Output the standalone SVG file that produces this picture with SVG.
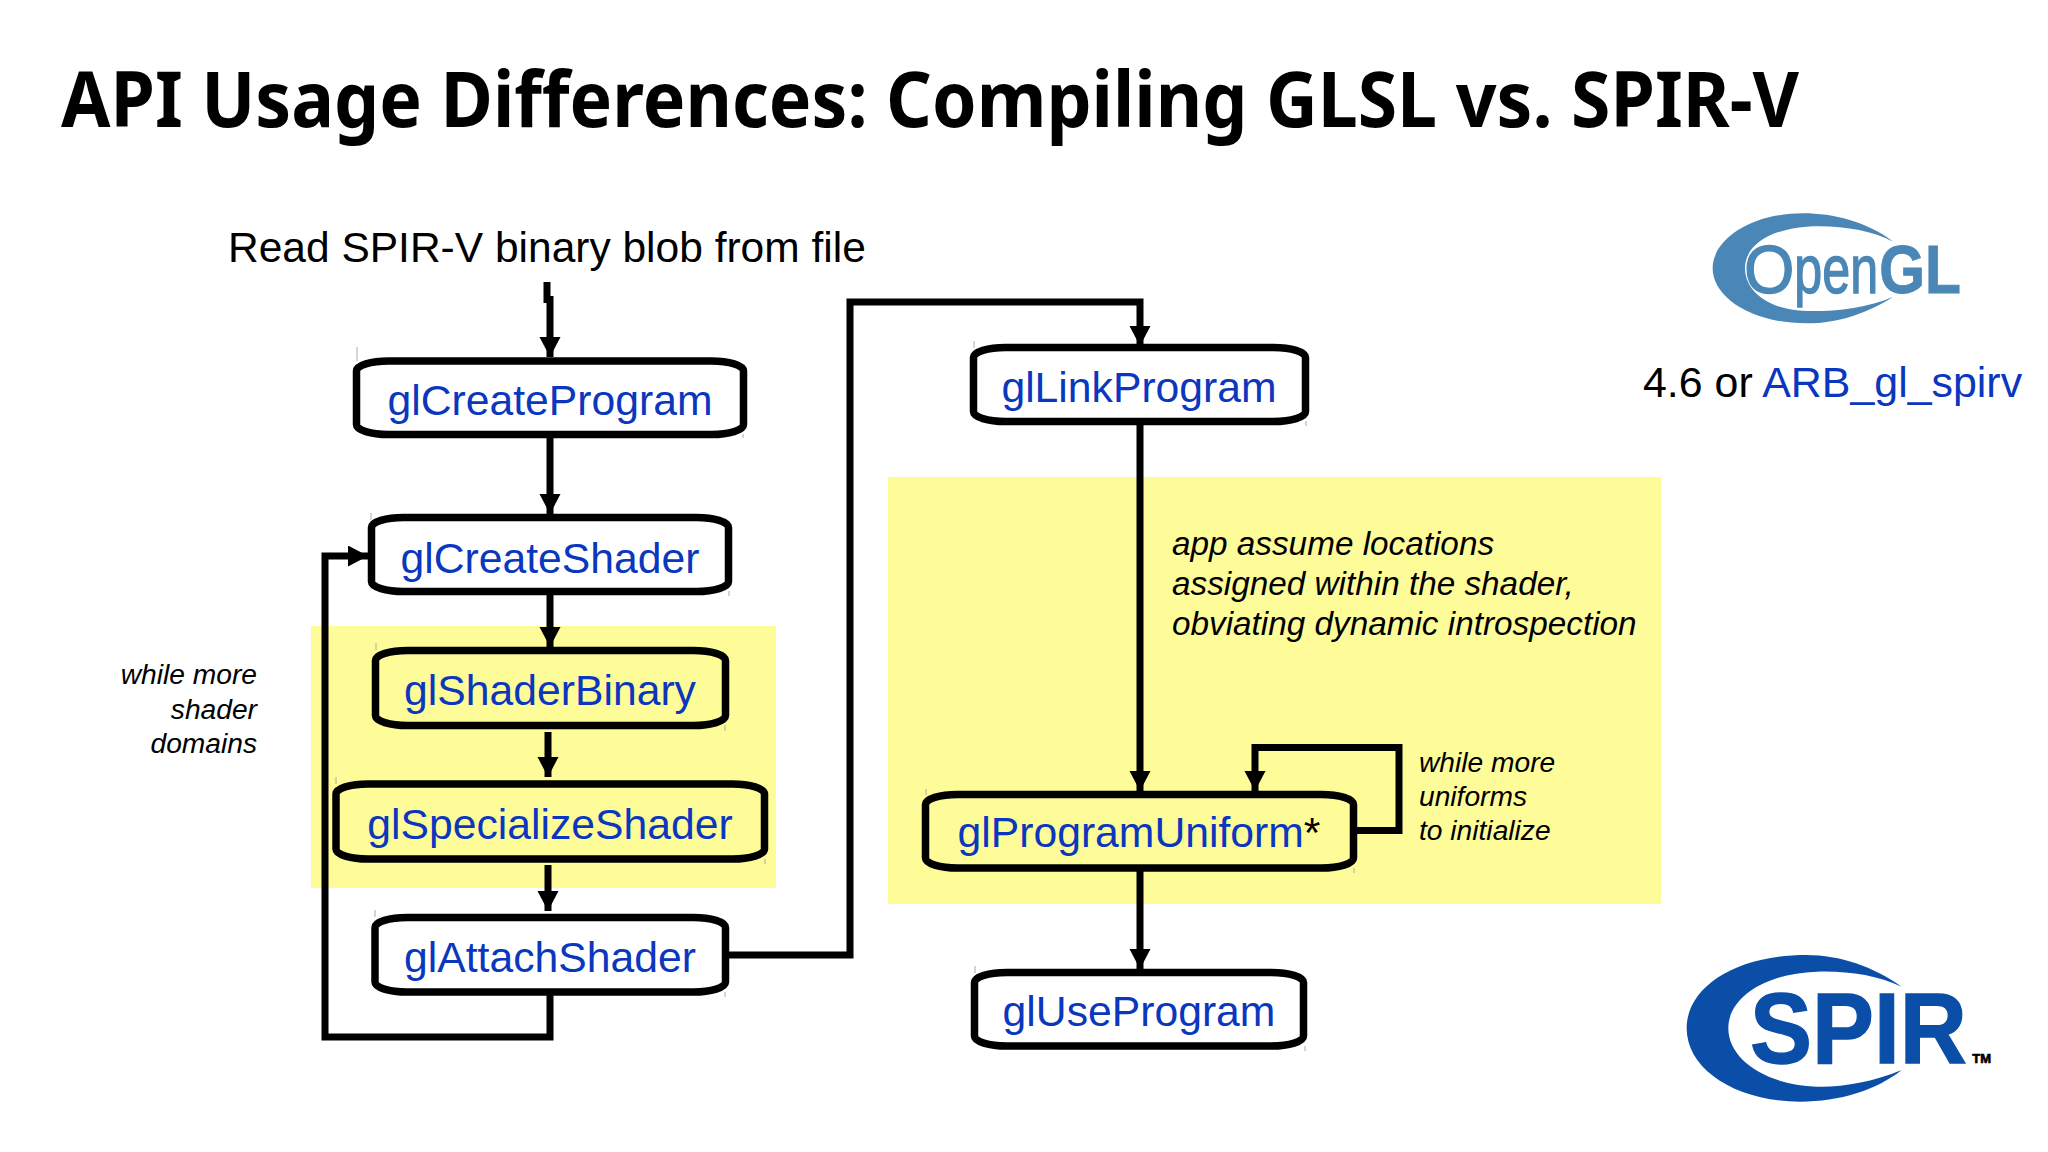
<svg xmlns="http://www.w3.org/2000/svg" width="2048" height="1152" viewBox="0 0 2048 1152">
<defs>
<marker id="arr" markerUnits="userSpaceOnUse" markerWidth="22" markerHeight="22" refX="20" refY="10.5" orient="auto"><path d="M0,0L20,10.5L0,21Z" fill="#000"/></marker>
</defs>
<style>
.node{fill:none;stroke:#000;stroke-width:7.5}
.w{fill:#fff}
.tick{stroke:#aaa;stroke-width:1;fill:none}
.fn{font-family:"Liberation Sans",Arial,sans-serif;font-size:42.7px;fill:#0a37bd;text-anchor:middle}
.blk{font-family:"Liberation Sans",Arial,sans-serif;fill:#000}
.it{font-family:"Liberation Sans",Arial,sans-serif;font-style:italic;fill:#000}
.c{fill:none;stroke:#000;stroke-width:7}
.yl{fill:#fefc98}
</style>
<rect width="2048" height="1152" fill="#fff"/>
<rect class="yl" x="311" y="626" width="465" height="262"/>
<rect class="yl" x="888" y="477" width="773" height="427"/>
<text x="61" y="127" font-family="Noto Sans,sans-serif" font-weight="700" font-size="77" fill="#000" id="title" textLength="1738" lengthAdjust="spacingAndGlyphs">API Usage Differences: Compiling GLSL vs. SPIR-V</text>
<text class="blk" x="228" y="262" font-size="42.5">Read SPIR-V binary blob from file</text>
<text class="it" text-anchor="end" font-size="28.200"><tspan x="257" y="684">while more</tspan><tspan x="257" y="719">shader</tspan><tspan x="257" y="753">domains</tspan></text>
<text class="it" font-size="33.300"><tspan x="1172" y="555">app assume locations</tspan><tspan x="1172" y="595">assigned within the shader,</tspan><tspan x="1172" y="635">obviating dynamic introspection</tspan></text>
<text class="it" font-size="28.200"><tspan x="1419" y="772">while more</tspan><tspan x="1419" y="806">uniforms</tspan><tspan x="1419" y="840">to initialize</tspan></text>
<text class="blk" x="1643" y="397" font-size="42.900">4.6 or <tspan fill="#0a37bd">ARB_gl_spirv</tspan></text>
<g id="connectors">
<path d="M547,282V303" stroke="#000" stroke-width="7" fill="none"/>
<path class="c" d="M550,296V357" marker-end="url(#arr)"/>
<path class="c" d="M550,438V514" marker-end="url(#arr)"/>
<path class="c" d="M550,595V647" marker-end="url(#arr)"/>
<path class="c" d="M548,732V777" marker-end="url(#arr)"/>
<path class="c" d="M548,865V911" marker-end="url(#arr)"/>
<path class="c" d="M550,995V1037H325V556H368" marker-end="url(#arr)"/>
<path class="c" d="M729,955H850V302H1140V346" marker-end="url(#arr)"/>
<path class="c" d="M1140,423V791" marker-end="url(#arr)"/>
<path class="c" d="M1355,830.500H1399V747.500H1255V791" marker-end="url(#arr)"/>
<path class="c" d="M1140,871V969" marker-end="url(#arr)"/>
</g>
<g id="glCreateProgram"><rect class="node w" x="356.500" y="361" width="387" height="73.500" rx="32" ry="10"/><path class="tick" d="M357,347V361M743,434V438"/><text class="fn" x="550" y="415">glCreateProgram</text></g>
<g id="glCreateShader"><rect class="node w" x="371.500" y="517.500" width="357" height="74" rx="32" ry="10"/><path class="tick" d="M371,513V520M729,591V596"/><text class="fn" x="550" y="573">glCreateShader</text></g>
<g id="glShaderBinary"><rect class="node" x="375.500" y="650.500" width="350" height="75" rx="32" ry="10"/><path class="tick" d="M376,643V650M725,725V731"/><text class="fn" x="550" y="705">glShaderBinary</text></g>
<g id="glSpecializeShader"><rect class="node" x="336" y="784" width="428.500" height="75" rx="32" ry="10"/><path class="tick" d="M336,777V784M765,859V864"/><text class="fn" x="550" y="839">glSpecializeShader</text></g>
<g id="glAttachShader"><rect class="node w" x="375" y="917.500" width="350.500" height="74.500" rx="32" ry="10"/><path class="tick" d="M375,910V917M725,992V997"/><text class="fn" x="550" y="972">glAttachShader</text></g>
<g id="glLinkProgram"><rect class="node w" x="973.500" y="347.500" width="332" height="74" rx="32" ry="10"/><path class="tick" d="M974,341V348M1306,421V426"/><text class="fn" x="1139" y="402">glLinkProgram</text></g>
<g id="glProgramUniform"><rect class="node" x="925.500" y="794.500" width="428" height="73.500" rx="32" ry="10"/><path class="tick" d="M926,789V795M1354,868V873"/><text class="fn" x="1139" y="847"><tspan>glProgramUniform</tspan><tspan fill="#000">*</tspan></text></g>
<g id="glUseProgram"><rect class="node w" x="974.500" y="972.500" width="329" height="73.500" rx="32" ry="10"/><path class="tick" d="M975,966V973M1305,1046V1051"/><text class="fn" x="1139" y="1026">glUseProgram</text></g>
<g id="opengl-logo" transform="translate(1600,180) scale(.3333)" fill="#4a87b6" stroke="#4a87b6" font-family="Liberation Sans,sans-serif">
<path stroke="none" d="M880,185C800,125 700,100 610,100C450,100 338,180 338,265C338,350 450,430 620,430C720,430 810,395 880,350C800,385 700,395 620,393C500,390 435,330 435,265C435,200 500,150 620,140C720,135 810,150 880,185Z"/>
<text transform="translate(432,340) scale(.95,1)" font-size="205" stroke-width="4">O</text>
<text transform="translate(583,340) scale(.735,1)" font-size="205" stroke-width="4">pen</text>
<text transform="translate(838,340) scale(.86,1)" font-size="205" font-weight="700" stroke-width="3">GL</text>
</g>
<g id="spir-logo" transform="translate(1660,930) scale(.3333)" fill="#0a4ea8" font-family="Liberation Sans,sans-serif" font-weight="700">
<path d="M725,170C640,110 540,75 440,75C230,75 80,170 80,295C80,420 230,515 420,515C540,515 650,480 725,420C640,455 550,472 470,470C320,465 205,390 205,295C205,200 320,130 470,125C560,122 650,135 725,170Z"/>
<text transform="translate(270,400) scale(.929,1)" font-size="300" stroke="#0a4ea8" stroke-width="4">SPIR</text>
<text x="937" y="400" font-size="39" fill="#000" stroke="#000" stroke-width="2">TM</text>
</g>
</svg>
